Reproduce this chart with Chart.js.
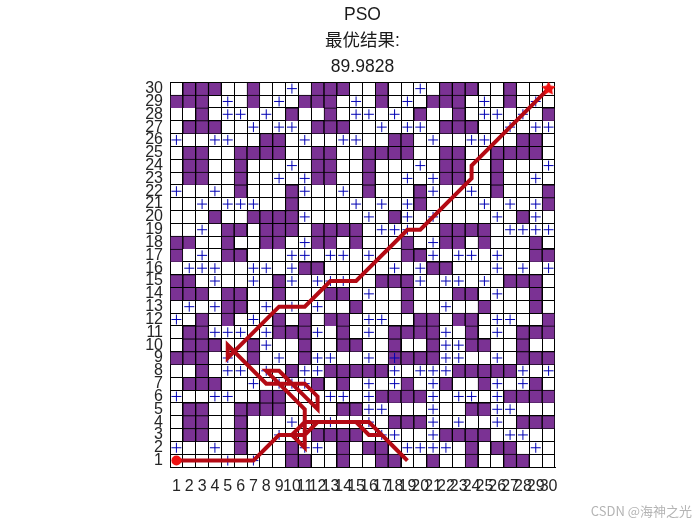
<!DOCTYPE html>
<html>
<head>
<meta charset="utf-8">
<script src="https://cdn.jsdelivr.net/npm/chart.js@4"></script>
<style>
  html, body { margin: 0; padding: 0; background: #fff; }
  #wrap { width: 700px; height: 525px; }
</style>
</head>
<body>
<div id="wrap"><canvas id="c" width="700" height="525"></canvas></div>
<script>
const tickLabels = Array.from({ length: 30 }, (_, i) => i + 1);
const titleLines = ['PSO', '最优结果:', '89.9828'];
const watermark = 'CSDN @海神之光';

// columns per row, top row (30) first
const rowNumbers = [30,29,28,27,26,25,24,23,22,21,20,19,18,17,16,15,14,13,12,11,10,9,8,7,6,5,4,3,2,1];
const obstacleCols = [
  [2,3,4,7,12,13,14,17,22,23,24,27],
  [1,2,3,7,11,12,13,17,21,22,23,27],
  [3,10,13,20,23,30],
  [2,3,4,12,13,14,22,23,24],
  [8,9,18,19,28,29],
  [2,3,6,7,8,9,12,13,16,17,18,19,22,23,26,27,28,29],
  [2,3,6,12,13,16,22,23,26],
  [2,3,6,12,13,16,22,23,26],
  [6,10,16,20,26,30],
  [10,20,30],
  [4,7,8,9,10,18,28],
  [5,6,8,9,10,12,13,14,15,22,23,24,25],
  [1,2,5,8,9,12,13,15,19,22,23,25,29],
  [1,5,6,19,20,29,30],
  [11,12,21,22],
  [1,2,9,17,18,19,27,28,29],
  [1,2,3,5,6,9,13,14,19,23,24,29],
  [5,6,15,19,25,29],
  [3,5,9,11,13,14,20,21,23,24,30],
  [2,3,9,10,11,14,18,19,20,21,24,28,29,30],
  [2,3,4,7,11,14,15,18,21,24,25,28],
  [1,2,3,7,11,18,19,20,21,28,29,30],
  [3,10,13,14,15,16,17,23,24,25,26,27],
  [2,3,4,12,14,19,22,25,29],
  [8,9,17,18,19,20,27,28,29,30],
  [2,3,6,7,8,9,14,15,24,25],
  [2,3,6,18,19,20,28,29,30],
  [2,3,6,12,13,14,15,22,23,24,25],
  [6,10,14,16,17,24,26,27],
  [10,11,14,17,18,21,24,27,28]
];
const crossCols = [
  [10,20],
  [5,9,15,19,25,29],
  [5,6,8,15,16,18,25,26,28],
  [7,9,10,17,19,20,27,29,30],
  [1,4,5,11,14,15,21,24,25],
  [],
  [10,20,30],
  [9,11,19,21,29],
  [1,4,11,14,21,24],
  [3,5,6,7,15,17,19,25,27,29],
  [11,16,19,21,26,29],
  [3,17,18,19,27,28,29,30],
  [11,21],
  [3,10,11,13,14,16,21,23,24,26],
  [2,3,4,7,8,10,18,20,26,28,30],
  [4,7,10,12,13,14,20,22,23,25],
  [16,26],
  [2,4,8,10,12,22],
  [1,7,16,17,26,27],
  [4,5,6,8,12,16,22,26],
  [8,22,23],
  [5,9,12,13,16,18,22,23,26],
  [5,6,8,11,12,18,20,21,22,28,30],
  [7,9,10,11,16,18,21,26,28],
  [1,4,5,13,14,16,21,23,24,26],
  [16,17,21,26,27],
  [10,13,16,21,23,26],
  [9,17,18,21,27,28],
  [1,4,11,12,19,20,21,22,29],
  [5,7]
];

const pathX = [1,7,8,9,10,11,12,16,17,18,19,18,17,16,15,12,11,10,11,11,10,9,8,9,10,11,12,12,11,10,8,5,5,9,11,13,15,19,20,24,24,30];
const pathY = [1,1,2,3,3,4,4,4,3,2,1,2,3,3,4,4,3,3,2,5,6,7,8,8,7,7,6,5,6,7,7,10,9,13,13,15,15,19,19,23,24,30];

const obstacleData = [];
const crossData = [];
rowNumbers.forEach((row, i) => {
  obstacleCols[i].forEach(col => obstacleData.push({ x: col, y: [row - 0.5, row + 0.5] }));
  crossCols[i].forEach(col => crossData.push({ x: col, y: row }));
});

function starIcon(size, color) {
  const cv = document.createElement('canvas');
  cv.width = size;
  cv.height = size;
  const g = cv.getContext('2d');
  const r = size / 2;
  g.fillStyle = color;
  g.beginPath();
  for (let i = 0; i < 10; i++) {
    const rad = i % 2 ? r * 0.5 : r;
    const a = -Math.PI / 2 + i * Math.PI / 5;
    g.lineTo(r + rad * Math.cos(a), r + rad * Math.sin(a));
  }
  g.closePath();
  g.fill();
  return cv;
}

const watermarkPlugin = {
  id: 'watermark',
  afterDraw(chart) {
    const ctx = chart.ctx;
    ctx.save();
    ctx.font = '13px "Noto Sans CJK SC", "Liberation Sans"';
    ctx.fillStyle = '#b4b4b4';
    ctx.textAlign = 'right';
    ctx.textBaseline = 'middle';
    ctx.fillText(watermark, 692, 511);
    ctx.restore();
  }
};

const axisFont = { family: '"Liberation Sans", Arial, sans-serif', size: 16 };

new Chart(document.getElementById('c'), {
  data: {
    datasets: [
      {
        type: 'line',
        data: [{ x: pathX[0], y: pathY[0] }],
        showLine: false,
        pointRadius: 5,
        pointBackgroundColor: '#ee1111',
        pointBorderWidth: 0,
        order: 0
      },
      {
        type: 'line',
        data: [{ x: pathX[pathX.length - 1], y: pathY[pathY.length - 1] }],
        showLine: false,
        pointStyle: starIcon(15, '#ee1111'),
        order: 0
      },
      {
        type: 'line',
        data: pathX.map((x, i) => ({ x, y: pathY[i] })),
        borderColor: '#b40a14',
        borderWidth: 4,
        pointRadius: 0,
        tension: 0,
        order: 1
      },
      {
        type: 'line',
        data: crossData,
        showLine: false,
        pointStyle: 'cross',
        pointRadius: 5,
        pointBorderColor: '#0000b4',
        pointBorderWidth: 1,
        order: 2
      },
      {
        type: 'bar',
        data: obstacleData,
        backgroundColor: '#7b3294',
        borderColor: '#000',
        borderWidth: 1,
        barPercentage: 1,
        categoryPercentage: 1,
        grouped: false,
        order: 3
      }
    ]
  },
  options: {
    responsive: false,
    animation: false,
    layout: { padding: { left: 0, right: 145, top: 0, bottom: 0 } },
    plugins: {
      legend: { display: false },
      tooltip: { enabled: false },
      title: {
        display: true,
        text: titleLines,
        fullSize: false,
        color: '#1a1a1a',
        font: { family: '"Liberation Sans", "Noto Sans CJK SC", sans-serif', size: 17.5, weight: 'normal', lineHeight: 1.49 },
        padding: { top: 2, bottom: 2 }
      }
    },
    scales: {
      x: {
        type: 'linear',
        offset: false,
        min: 0.5,
        max: 30.5,
        afterBuildTicks(s) { s.ticks = tickLabels.map(v => ({ value: v })); },
        afterFit(s) { s.height = 58; },
        grid: { offset: true, color: '#000', lineWidth: 1, drawTicks: false },
        border: { color: '#000' },
        ticks: { color: '#262626', font: axisFont, autoSkip: false, maxRotation: 0, minRotation: 0, padding: 10, callback: v => String(v) }
      },
      y: {
        type: 'linear',
        min: 0.5,
        max: 30.5,
        afterBuildTicks(s) { s.ticks = tickLabels.map(v => ({ value: v })); },
        afterFit(s) { s.width = 170; },
        grid: { offset: true, color: '#000', lineWidth: 1, drawTicks: false },
        border: { color: '#000' },
        ticks: { color: '#262626', font: axisFont, autoSkip: false, padding: 7, callback: v => String(v) }
      }
    }
  },
  plugins: [watermarkPlugin]
});
</script>
</body>
</html>
